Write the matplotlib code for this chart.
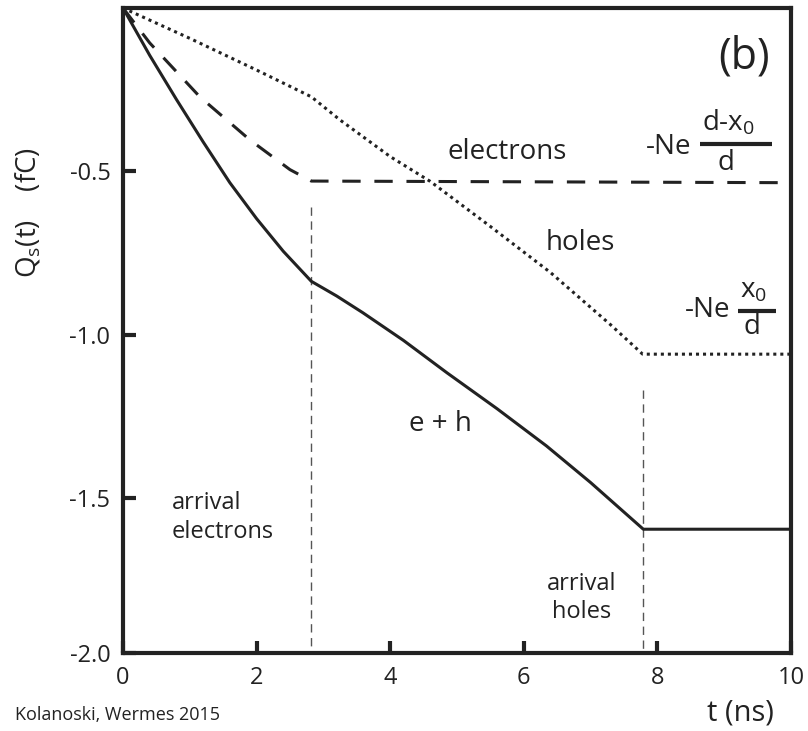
import numpy as np
import matplotlib.pyplot as plt

plt.rcParams['font.family'] = ['Open Sans', 'DejaVu Sans']
plt.rcParams['mathtext.default'] = 'regular'

# electrons (dashed)
t_e = [0, 0.4, 1.15, 1.9, 2.5, 2.82, 10]
q_e = [0, -0.107, -0.272, -0.404, -0.495, -0.53, -0.535]

# holes (dotted)
t_h = [0, 1.0, 2.0, 2.82, 3.25, 4.0, 4.6, 5.5, 6.4, 7.3, 7.78, 10]
q_h = [0, -0.093, -0.19, -0.272, -0.343, -0.455, -0.531, -0.669, -0.81, -0.97, -1.06, -1.06]

# e + h (solid)
t_s = [0, 0.4, 0.8, 1.2, 1.6, 2.0, 2.4, 2.82, 3.2, 3.59, 4.2, 4.85, 5.6, 6.34, 7.0, 7.79, 10]
q_s = [0, -0.145, -0.28, -0.41, -0.535, -0.645, -0.745, -0.837, -0.882, -0.933,
       -1.018, -1.117, -1.227, -1.341, -1.453, -1.596, -1.596]

# arrival times (thin vertical markers)
t_arr = [2.82, 7.78]
q_arr_top = [-0.61, -1.17]

xticks = [0, 2, 4, 6, 8, 10]
yticks = [-0.5, -1.0, -1.5, -1.975]
yticklabels = ['-0.5', '-1.0', '-1.5', '-2.0']

ink = '#222222'

fig = plt.figure(figsize=(8.08, 7.31), dpi=100)
ax = fig.add_axes([0.1522, 0.1067, 0.8267, 0.8824])

for t, q in zip(t_arr, q_arr_top):
    ax.plot([t, t], [q, -1.975], color='#555555', lw=1.0, ls=(0, (6, 4)))

ax.plot(t_e, q_e, color=ink, lw=2.2, ls=(0, (6, 4.5)))
ax.plot(t_h, q_h, color=ink, lw=2.2, ls=(0, (1, 1.3)))
ax.plot(t_s, q_s, color=ink, lw=2.2)

ax.set_xlim(0, 10)
ax.set_ylim(-1.975, 0)
ax.set_xticks(xticks)
ax.set_yticks(yticks)
ax.set_yticklabels(yticklabels)
ax.tick_params(direction='in', length=9, width=3, labelsize=17, colors=ink)
ax.tick_params(axis='x', pad=9)
ax.tick_params(axis='y', pad=9)
for s in ax.spines.values():
    s.set_linewidth(3)
    s.set_color(ink)

ax.text(9.30, -0.15, '(b)', ha='center', va='center', fontsize=31, color=ink)
ax.text(5.75, -0.44, 'electrons', ha='center', va='center', fontsize=20, color=ink)
ax.text(6.84, -0.72, 'holes', ha='center', va='center', fontsize=20, color=ink)
ax.text(4.75, -1.275, 'e + h', ha='center', va='center', fontsize=20, color=ink)
ax.text(0.73, -1.56, 'arrival\nelectrons', ha='left', va='center', linespacing=1.25, fontsize=17, color=ink)
ax.text(6.86, -1.807, 'arrival\nholes', ha='center', va='center', linespacing=1.25, fontsize=17, color=ink)

# -Ne (d-x0)/d
ax.text(8.17, -0.425, '-Ne', ha='center', va='center', fontsize=20, color=ink)
ax.text(9.06, -0.352, 'd-x$_0$', ha='center', va='center', fontsize=20, color=ink)
ax.text(9.03, -0.475, 'd', ha='center', va='center', fontsize=20, color=ink)
ax.plot([8.64, 9.72], [-0.416, -0.416], color=ink, lw=3, solid_capstyle='butt')
# -Ne x0/d
ax.text(8.75, -0.924, '-Ne', ha='center', va='center', fontsize=20, color=ink)
ax.text(9.44, -0.866, 'x$_0$', ha='center', va='center', fontsize=20, color=ink)
ax.text(9.42, -0.978, 'd', ha='center', va='center', fontsize=20, color=ink)
ax.plot([9.21, 9.78], [-0.927, -0.927], color=ink, lw=3, solid_capstyle='butt')

fig.text(0.035, 0.71, 'Q$_s$(t)    (fC)', rotation=90, ha='center', va='center', fontsize=20, color=ink)
fig.text(0.917, 0.025, 't (ns)', ha='center', va='center', fontsize=21, color=ink)
fig.text(0.018, 0.022, 'Kolanoski, Wermes 2015', ha='left', va='center', fontsize=13, color=ink)

plt.savefig('out.png', dpi=100)
